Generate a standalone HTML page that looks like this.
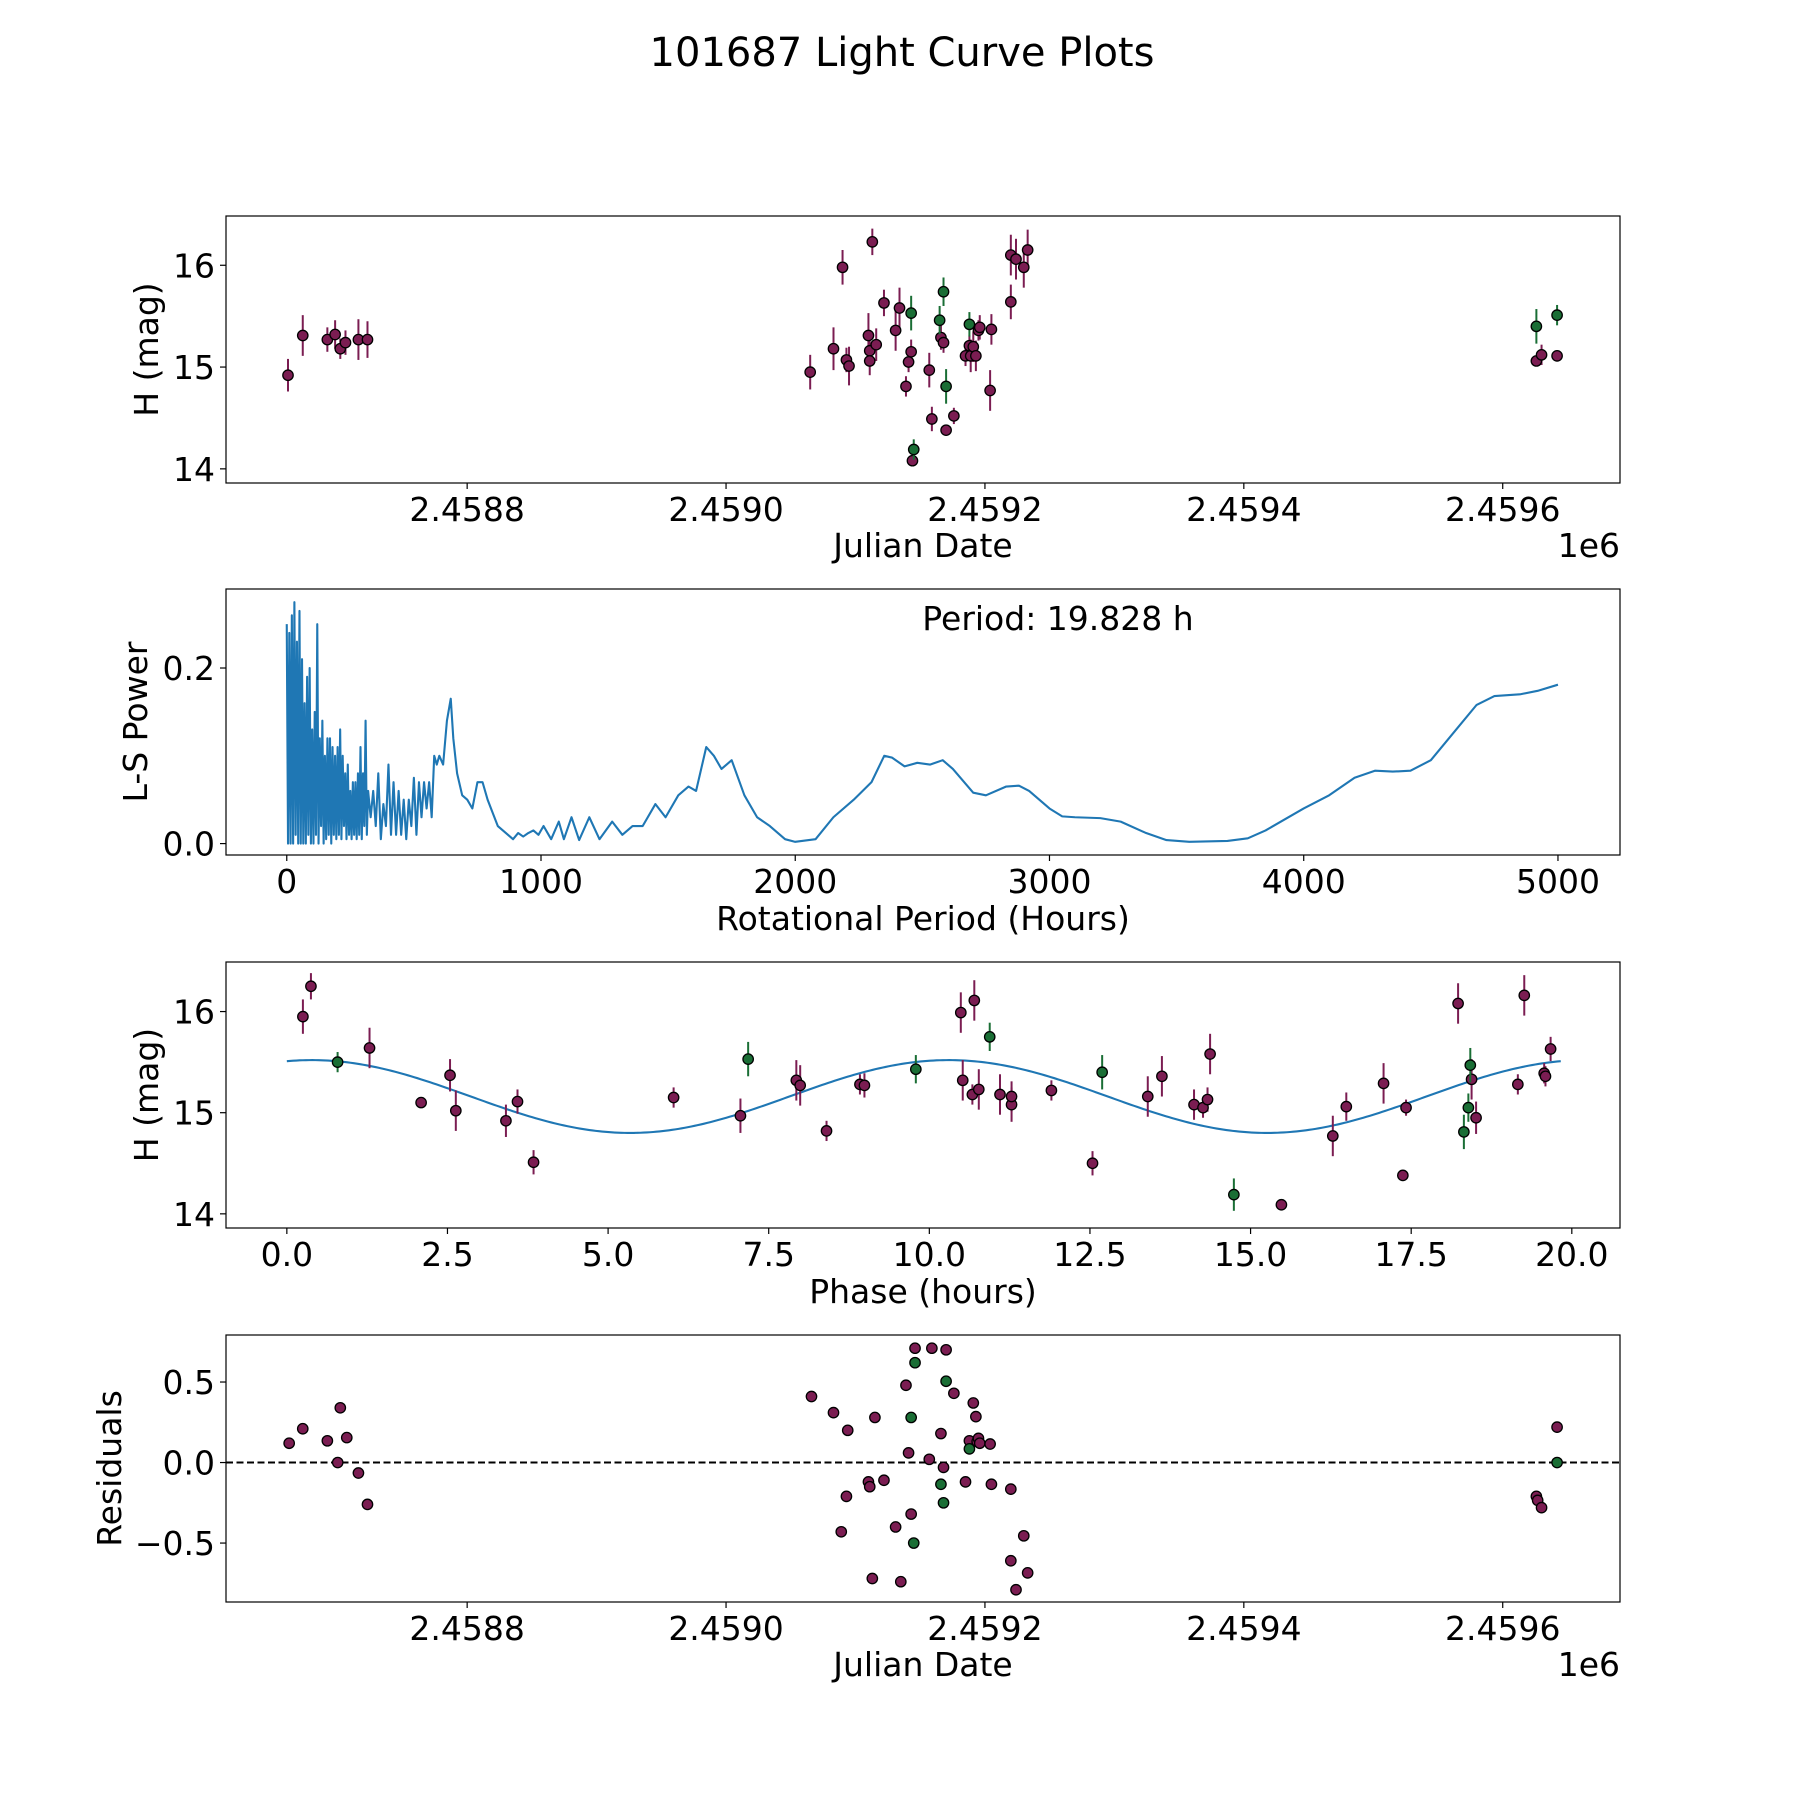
<!DOCTYPE html>
<html><head><meta charset="utf-8">
<style>
html,body{margin:0;padding:0;background:#fff;}
svg{display:block;font-family:"DejaVu Sans","Liberation Sans",sans-serif;}
</style></head>
<body>
<svg id="fig" width="1800" height="1800" viewBox="0 0 1800 1800" xmlns="http://www.w3.org/2000/svg">
<rect x="0" y="0" width="1800" height="1800" fill="#fff"/>
<text x="902" y="66" font-size="40" text-anchor="middle" fill="#000">101687 Light Curve Plots</text>
</svg>
<script>
// ---- Panel 1: light curve (purple / green series)
const lcJdPurple = [2458661.6,2458673,2458692,2458698,2458702,2458706,2458716,2458723,
 2459065,2459083,2459090,2459093,2459095,2459110,2459111,2459111,2459113,2459116,2459122,2459131,2459134,2459139,2459141,2459143,2459144,2459157,2459159,2459166,2459168,2459170,2459176,2459185,2459188,2459189,2459191,2459193,2459195,2459196,2459204,2459205,2459220,2459220,2459224,2459230,2459233,
 2459626,2459630,2459642];
const lcHPurple = [14.92,15.31,15.27,15.32,15.18,15.24,15.27,15.27,
 14.95,15.18,15.98,15.07,15.01,15.31,15.16,15.06,16.23,15.22,15.63,15.36,15.58,14.81,15.05,15.15,14.08,14.97,14.49,15.29,15.24,14.38,14.52,15.11,15.21,15.11,15.20,15.11,15.36,15.39,14.77,15.37,15.64,16.10,16.06,15.98,16.15,
 15.06,15.12,15.11];
const lcErrPurple = [0.16,0.2,0.12,0.14,0.1,0.12,0.2,0.18,
 0.17,0.21,0.17,0.12,0.19,0.22,0.1,0.14,0.13,0.16,0.13,0.2,0.2,0.1,0.1,0.12,0.05,0.17,0.12,0.12,0.1,0.05,0.08,0.1,0.1,0.16,0.15,0.15,0.1,0.12,0.2,0.15,0.17,0.2,0.2,0.2,0.2,
 0.05,0.1,0.05];
const lcJdGreen = [2459143,2459145,2459165,2459168,2459170,2459188,2459626,2459642];
const lcHGreen = [15.53,14.19,15.46,15.74,14.81,15.42,15.40,15.51];
const lcErrGreen = [0.17,0.1,0.14,0.14,0.17,0.12,0.17,0.1];
const jdTicks = [2458800,2459000,2459200,2459400,2459600];
const jdTickLabels = ["2.4588","2.4590","2.4592","2.4594","2.4596"];
const hTicks = [14,15,16];
const hTickLabels = ["14","15","16"];

// ---- Panel 2: Lomb-Scargle periodogram
const lsPeriod = [
 0,5,10,15,20,25,30,35,40,45,
 50,55,60,65,70,75,80,85,90,95,
 100,105,110,115,120,125,130,135,140,145,
 150,155,160,165,170,175,180,185,190,195,
 200,205,210,215,220,225,230,235,240,245,
 250,255,260,265,270,275,280,285,290,295,
 300,305,310,315,320,
 330,340,350,360,370,380,390,400,410,420,
 430,440,450,460,470,480,490,500,510,520,
 530,540,550,560,570,580,590,600,
 615,630,645,655,670,690,710,730,750,770,
 790,810,830,850,870,890,910,930,950,970,
 990,1010,1040,1070,1090,1120,1150,1190,1230,1280,
 1320,1360,1400,1450,1490,1540,1580,1610,1650,1680,
 1710,1750,1800,1850,1900,1960,2000,2080,2150,2230,
 2300,2350,2380,2430,2480,2530,2580,2620,2700,2750,
 2830,2880,2920,3000,3050,3100,3200,3280,3380,3460,
 3550,3700,3780,3850,4000,4100,4200,4280,4350,4420,
 4500,4600,4680,4750,4850,4920,5000];
const lsPower = [
 0.25,0,0.24,0,0.26,0,0.275,0.01,0.23,0,
 0.265,0,0.21,0,0.16,0,0.19,0.01,0.2,0,
 0.13,0,0.15,0.01,0.25,0,0.12,0.02,0.14,0,
 0.1,0.005,0.12,0.01,0.12,0,0.11,0.01,0.1,0.005,
 0.11,0.01,0.13,0.005,0.1,0.02,0.08,0.005,0.09,0.01,
 0.06,0.005,0.07,0.01,0.07,0.005,0.08,0.01,0.11,0.005,
 0.08,0.02,0.14,0.01,0.06,
 0.03,0.06,0.02,0.08,0.005,0.045,0.02,0.09,0.01,0.07,
 0.01,0.06,0.01,0.05,0.005,0.05,0.02,0.075,0.01,0.07,
 0.03,0.07,0.04,0.07,0.03,0.1,0.09,0.1,
 0.09,0.14,0.165,0.12,0.08,0.055,0.05,0.04,0.07,0.07,
 0.05,0.035,0.02,0.015,0.01,0.005,0.012,0.008,0.012,0.015,
 0.01,0.02,0.005,0.025,0.005,0.03,0.004,0.03,0.005,0.025,
 0.01,0.02,0.02,0.045,0.03,0.055,0.065,0.06,0.11,0.1,
 0.085,0.095,0.055,0.03,0.02,0.005,0.002,0.005,0.03,0.05,
 0.07,0.1,0.098,0.088,0.092,0.09,0.095,0.085,0.058,0.055,
 0.065,0.066,0.06,0.04,0.031,0.03,0.029,0.025,0.012,0.004,
 0.002,0.003,0.006,0.015,0.04,0.055,0.075,0.083,0.082,0.083,
 0.095,0.13,0.158,0.168,0.17,0.174,0.181];
const periodTicks = [0,1000,2000,3000,4000,5000];
const periodTickLabels = ["0","1000","2000","3000","4000","5000"];
const powerTicks = [0,0.2];
const powerTickLabels = ["0.0","0.2"];

// ---- Panel 3: phase-folded
const phPurple = [0.25,0.375,1.287,2.09,2.54,2.63,3.41,3.59,3.84,6.02,7.06,7.93,7.99,8.40,8.92,8.99,10.49,10.52,10.67,10.70,10.77,11.10,11.28,11.28,11.90,12.54,13.40,13.62,14.12,14.26,14.33,14.37,15.48,16.28,16.49,17.07,17.37,17.42,18.23,18.44,18.51,19.16,19.26,19.57,19.59,19.67];
const phHPurple = [15.95,16.25,15.64,15.10,15.37,15.02,14.92,15.11,14.51,15.15,14.97,15.32,15.27,14.82,15.28,15.27,15.99,15.32,15.18,16.11,15.23,15.18,15.08,15.16,15.22,14.50,15.16,15.36,15.08,15.05,15.13,15.58,14.09,14.77,15.06,15.29,14.38,15.05,16.08,15.33,14.95,15.28,16.16,15.39,15.36,15.63];
const phErrPurple = [0.17,0.13,0.2,0.05,0.16,0.2,0.16,0.12,0.12,0.1,0.17,0.2,0.2,0.1,0.1,0.12,0.2,0.2,0.1,0.2,0.2,0.2,0.17,0.15,0.1,0.12,0.2,0.2,0.15,0.1,0.12,0.2,0.05,0.2,0.14,0.2,0.05,0.08,0.2,0.2,0.16,0.1,0.2,0.1,0.1,0.12];
const phGreen = [0.79,7.18,9.79,10.94,12.69,14.74,18.32,18.39,18.42];
const phHGreen = [15.50,15.53,15.43,15.75,15.40,14.19,14.81,15.05,15.47];
const phErrGreen = [0.1,0.17,0.14,0.14,0.17,0.16,0.17,0.14,0.17];
const fitParams = [15.16, 0.36, 10.3, 9.914, 19.828]; // mean, amplitude, peak phase, half period, max phase
const phaseTicks = [0,2.5,5,7.5,10,12.5,15,17.5,20];
const phaseTickLabels = ["0.0","2.5","5.0","7.5","10.0","12.5","15.0","17.5","20.0"];

// ---- Panel 4: residuals
const resJdPurple = [2458662.5,2458673,2458692,2458700,2458702,2458707,2458716,2458723,
 2459066,2459083,2459089,2459093,2459094,2459110,2459111,2459113,2459115,2459122,2459131,2459135,2459139,2459141,2459143,2459146,2459157,2459159,2459166,2459168,2459170,2459176,2459185,2459188,2459191,2459193,2459194,2459195,2459196,2459204,2459205,2459220,2459220,2459224,2459230,2459233,
 2459626,2459627,2459630,2459642];
const resPurple = [0.12,0.21,0.135,0.0,0.34,0.155,-0.065,-0.26,
 0.41,0.31,-0.43,-0.21,0.20,-0.12,-0.15,-0.72,0.28,-0.11,-0.40,-0.74,0.48,0.06,-0.32,0.71,0.02,0.71,0.18,-0.03,0.70,0.43,-0.12,0.135,0.37,0.285,0.13,0.15,0.12,0.115,-0.135,-0.165,-0.61,-0.79,-0.455,-0.685,
 -0.21,-0.235,-0.28,0.22];
const resJdGreen = [2459143,2459145,2459146,2459166,2459168,2459170,2459188,2459642];
const resGreen = [0.28,-0.50,0.62,-0.135,-0.25,0.505,0.085,0.0];
const resTicks = [-0.5,0,0.5];
const resTickLabels = ["\u22120.5","0.0","0.5"];

const NS = "http://www.w3.org/2000/svg";
const fig = document.getElementById('fig');
const PURPLE = "#7b1d52", GREEN = "#1a6e35", BLUE = "#1f77b4";
const AX_L = 226, AX_R = 1620;
const TICK_FS = 33, LABEL_FS = 33, MR = 5.2;

function el(tag, attrs, parent){
  const e = document.createElementNS(NS, tag);
  for (const k in attrs) e.setAttribute(k, attrs[k]);
  (parent || fig).appendChild(e);
  return e;
}
function txt(parent, x, y, s, size, anchor, extra){
  const t = el('text', Object.assign({x:x, y:y, 'font-size':size, 'text-anchor':anchor, fill:'#000'}, extra||{}), parent);
  t.textContent = s;
  return t;
}

function makeAxes(name, top, bottom, xmin, xmax, ymin, ymax){
  const g = el('g', {});
  
  
  const sx = v => AX_L + (v - xmin) / (xmax - xmin) * (AX_R - AX_L);
  const sy = v => bottom - (v - ymin) / (ymax - ymin) * (bottom - top);
  return {g, sx, sy, top, bottom};
}
function drawFrame(ax){
  const r = el('rect', {x:AX_L, y:ax.top, width:AX_R-AX_L, height:ax.bottom-ax.top, fill:'none', stroke:'#000', 'stroke-width':1.2}, ax.g);
  
  
}
function drawXTicks(ax, ticks, labels, tickName){
  ticks.forEach((t,i)=>{
    const x = ax.sx(t);
    el('line', {x1:x, x2:x, y1:ax.bottom, y2:ax.bottom+6, stroke:'#000', 'stroke-width':1.2}, ax.g);
    const lab = txt(ax.g, x, ax.bottom+38, labels[i], TICK_FS, 'middle');
    
    
  });
}
function drawYTicks(ax, ticks, labels, tickName){
  ticks.forEach((t,i)=>{
    const y = ax.sy(t);
    el('line', {x1:AX_L-6, x2:AX_L, y1:y, y2:y, stroke:'#000', 'stroke-width':1.2}, ax.g);
    const lab = txt(ax.g, AX_L-11, y+12, labels[i], TICK_FS, 'end');
    
    
  });
}
function axisLabels(ax, xl, xlY, yl, ylX, xName, yName){
  const a = txt(ax.g, 923, xlY, xl, LABEL_FS, 'middle');
  
  
  const cy = (ax.top + ax.bottom)/2;
  const b = txt(ax.g, ylX, cy, yl, LABEL_FS, 'middle', {transform:'rotate(-90 '+ylX+' '+cy+')'});
  
  
}
function errPoints(ax, xs, ys, errs, color, name){
  xs.forEach((xv,i)=>{
    const x = ax.sx(xv);
    const l = el('line', {x1:x, x2:x, y1:ax.sy(ys[i]+errs[i]), y2:ax.sy(ys[i]-errs[i]), stroke:color, 'stroke-width':2}, ax.g);
    
    
  });
  xs.forEach((xv,i)=>{
    const c = el('circle', {cx:ax.sx(xv), cy:ax.sy(ys[i]), r:MR, fill:color, stroke:'#000', 'stroke-width':1.3}, ax.g);
    
    
  });
}
function scatter(ax, xs, ys, color, name){
  xs.forEach((xv,i)=>{
    const c = el('circle', {cx:ax.sx(xv), cy:ax.sy(ys[i]), r:MR, fill:color, stroke:'#000', 'stroke-width':1.3}, ax.g);
    
    
  });
}
function offsetLabel(ax, y){
  const o = txt(ax.g, AX_R, y, '1e6', TICK_FS, 'end');
  
  
}

const JD_MIN = 2458613.7, JD_MAX = 2459690.6;

// Panel 1
const ax1 = makeAxes('light-curve-panel', 216, 483, JD_MIN, JD_MAX, 13.861, 16.484);
errPoints(ax1, lcJdPurple, lcHPurple, lcErrPurple, PURPLE, 'lc-purple');
errPoints(ax1, lcJdGreen, lcHGreen, lcErrGreen, GREEN, 'lc-green');
drawFrame(ax1);
drawXTicks(ax1, jdTicks, jdTickLabels, 'x-tick-label');
drawYTicks(ax1, hTicks, hTickLabels, 'y-tick-label');
axisLabels(ax1, 'Julian Date', 557, 'H (mag)', 158, 'x-axis-title', 'y-axis-title');
offsetLabel(ax1, 557);

// Panel 2
const ax2 = makeAxes('periodogram-panel', 589, 855, -239, 5244, -0.013, 0.290);
let d = '';
lsPeriod.forEach((p,i)=>{ d += (i?'L':'M') + ax2.sx(p).toFixed(2) + ',' + ax2.sy(lsPower[i]).toFixed(2); });
const pl = el('path', {d:d, fill:'none', stroke:BLUE, 'stroke-width':2.1, 'stroke-linejoin':'round'}, ax2.g);


drawFrame(ax2);
drawXTicks(ax2, periodTicks, periodTickLabels, 'x-tick-label');
drawYTicks(ax2, powerTicks, powerTickLabels, 'y-tick-label');
axisLabels(ax2, 'Rotational Period (Hours)', 930, 'L-S Power', 147, 'x-axis-title', 'y-axis-title');
const per = txt(ax2.g, 1058, 630, 'Period: 19.828 h', 33, 'middle');



// Panel 3
const ax3 = makeAxes('phase-folded-panel', 962, 1228, -0.947, 20.75, 13.86, 16.49);
let fd = '';
for (let i = 0; i <= 400; i++){
  const p = fitParams[4] * i / 400;
  const h = fitParams[0] + fitParams[1] * Math.cos(2*Math.PI*(p - fitParams[2]) / fitParams[3]);
  fd += (i?'L':'M') + ax3.sx(p).toFixed(2) + ',' + ax3.sy(h).toFixed(2);
}
const fit = el('path', {d:fd, fill:'none', stroke:BLUE, 'stroke-width':2.1}, ax3.g);


errPoints(ax3, phPurple, phHPurple, phErrPurple, PURPLE, 'phase-purple');
errPoints(ax3, phGreen, phHGreen, phErrGreen, GREEN, 'phase-green');
drawFrame(ax3);
drawXTicks(ax3, phaseTicks, phaseTickLabels, 'x-tick-label');
drawYTicks(ax3, hTicks, hTickLabels, 'y-tick-label');
axisLabels(ax3, 'Phase (hours)', 1303, 'H (mag)', 158, 'x-axis-title', 'y-axis-title');

// Panel 4
const ax4 = makeAxes('residuals-panel', 1335, 1602, JD_MIN, JD_MAX, -0.866, 0.792);
const zl = el('line', {x1:AX_L, x2:AX_R, y1:ax4.sy(0), y2:ax4.sy(0), stroke:'#000', 'stroke-width':2, 'stroke-dasharray':'7,3.5'}, ax4.g);


scatter(ax4, resJdPurple, resPurple, PURPLE, 'res-purple');
scatter(ax4, resJdGreen, resGreen, GREEN, 'res-green');
drawFrame(ax4);
drawXTicks(ax4, jdTicks, jdTickLabels, 'x-tick-label');
drawYTicks(ax4, resTicks, resTickLabels, 'y-tick-label');
axisLabels(ax4, 'Julian Date', 1676, 'Residuals', 121, 'x-axis-title', 'y-axis-title');
offsetLabel(ax4, 1676);
</script>
</body></html>
